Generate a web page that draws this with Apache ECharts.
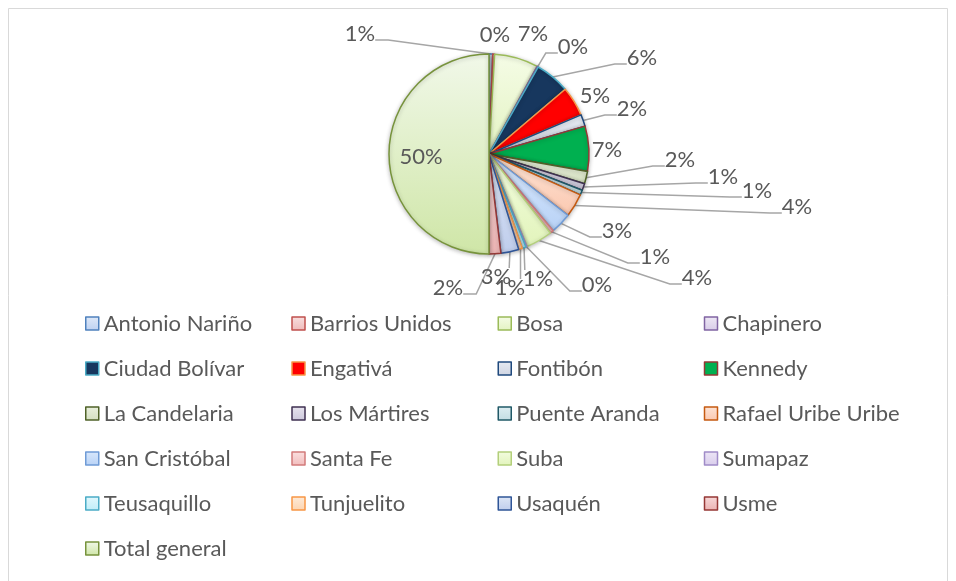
<!DOCTYPE html>
<html>
<head>
<meta charset="utf-8">
<script src="https://cdn.jsdelivr.net/npm/echarts@6/dist/echarts.min.js"></script>
<style>
  html, body { margin: 0; padding: 0; background: #ffffff; }
  #chart { width: 956px; height: 581px; }
</style>
</head>
<body>
<div id="chart"></div>
<script>
// Registros por localidad (Bogotá) con la fila "Total general" incluida
const localidades = [
  'Antonio Nariño', 'Barrios Unidos', 'Bosa', 'Chapinero',
  'Ciudad Bolívar', 'Engativá', 'Fontibón', 'Kennedy',
  'La Candelaria', 'Los Mártires', 'Puente Aranda', 'Rafael Uribe Uribe',
  'San Cristóbal', 'Santa Fe', 'Suba', 'Sumapaz',
  'Teusaquillo', 'Tunjuelito', 'Usaquén', 'Usme',
  'Total general'
];
const registros = [
  12, 6, 142, 4,
  112, 96, 38, 146,
  40, 22, 16, 76,
  68, 12, 86, 4,
  12, 12, 58, 38,
  1000
];

// Relleno degradado (arriba / abajo) y borde de cada porción
const rellenoClaro = [
  '#dfe9f8', '#f8e0e0', '#f5fce6', '#eee8f5',
  '#17375e', '#ff0000', '#e6eaf2', '#00b050',
  '#eaf0de', '#e7e4ee', '#deeef2', '#fde4d6',
  '#d9e8fc', '#fbe0e0', '#f3fce0', '#ede6f6',
  '#e2f8fd', '#feebd9', '#dee7f6', '#f7d8d8',
  '#f1f8e9'
];
const rellenoOscuro = [
  '#bdd1f2', '#efbaba', '#e3f3c2', '#d8cce8',
  '#17375e', '#ff0000', '#cfd5e2', '#00b050',
  '#d4dfc0', '#cdc8dc', '#c2dce2', '#fbc8b0',
  '#b8d2f6', '#f1bcbc', '#e2f4bb', '#d9cdec',
  '#bfedf8', '#fcd4b0', '#bfcdec', '#ebb3b3',
  '#cfe6a7'
];
const bordes = [
  '#4f81bd', '#c0504d', '#9bbb59', '#8064a2',
  '#4bacc6', '#f79646', '#1f497d', '#953735',
  '#4f6228', '#3f3151', '#215967', '#c55a11',
  '#6f9bd6', '#d27b7b', '#b3cf7b', '#a08cc8',
  '#4bacc6', '#f79646', '#2f5597', '#953735',
  '#77933c'
];

// Ubicación (centro) de cada etiqueta de porcentaje, al estilo de una hoja de cálculo
const posEtiquetas = [
  [360, 34], [495, 35], [533, 34], [573, 47],
  [642, 58], [595, 96], [632, 109], [607, 150],
  [680, 160], [723, 177], [757, 191], [797, 207],
  [617, 231], [655, 257], [697, 278], [597, 285],
  [538, 279], [510, 288], [496, 277], [448, 288],
  [421, 157]
];

const TEXTO = '#595959';
const FUENTE = 'Lato, "Liberation Sans", sans-serif';

const total = registros.reduce((a, b) => a + b, 0);

const datos = localidades.map((nombre, i) => {
  const item = {
    name: nombre,
    value: registros[i],
    itemStyle: {
      color: new echarts.graphic.LinearGradient(0, 0, 0, 1, [
        { offset: 0, color: rellenoClaro[i] },
        { offset: 1, color: rellenoOscuro[i] }
      ]),
      borderColor: bordes[i],
      borderWidth: 1.5
    }
  };
  if (nombre === 'Total general') {
    item.label = { position: 'inside' };
    item.labelLine = { show: false };
  }
  return item;
});

// Distancia de un punto a un rectángulo
function distanciaRect(p, r) {
  const dx = Math.max(r.x - p[0], 0, p[0] - (r.x + r.width));
  const dy = Math.max(r.y - p[1], 0, p[1] - (r.y + r.height));
  return Math.hypot(dx, dy);
}

// Coloca cada etiqueta y traza su línea guía desde el borde de la porción
function ubicarEtiqueta(params) {
  const i = params.dataIndex;
  const [cx, cy] = posEtiquetas[i];
  const w = params.labelRect.width;
  const h = params.labelRect.height;
  const out = { x: cx, y: cy, align: 'center', verticalAlign: 'middle' };
  const pts = params.labelLinePoints;
  if (!pts) return out;
  const borde = pts[0];
  const rect = { x: cx - w / 2, y: cy - h / 2, width: w, height: h };
  const dist = distanciaRect(borde, rect);
  const debajo = borde[1] < rect.y && borde[0] > rect.x - 14 && borde[0] < rect.x + w + 14;
  if (debajo && dist > 8) {
    // Etiqueta justo debajo: línea vertical hasta su borde superior
    const xFin = Math.min(Math.max(borde[0], rect.x + 2), rect.x + w - 2);
    const fin = [xFin, rect.y + 2];
    out.labelLinePoints = [borde, fin, fin];
    return out;
  }
  if (dist < 14) {
    out.labelLinePoints = [borde, borde, borde];
    return out;
  }
  const yUnion = cy + 6;
  if (borde[0] > cx) {
    const fin = [rect.x + w, yUnion];
    out.labelLinePoints = [borde, [fin[0] + 13, yUnion], fin];
  } else {
    const fin = [rect.x, yUnion];
    out.labelLinePoints = [borde, [fin[0] - 12, yUnion], fin];
  }
  return out;
}

const chart = echarts.init(document.getElementById('chart'), null, { renderer: 'canvas' });

chart.setOption({
  animation: false,
  backgroundColor: '#ffffff',
  graphic: [{
    type: 'rect',
    silent: true,
    shape: { x: 8.5, y: 8.5, width: 939, height: 600 },
    style: { fill: 'none', stroke: '#d9d9d9', lineWidth: 1 }
  }],
  legend: {
    left: 80,
    top: 300,
    width: 840,
    orient: 'horizontal',
    itemWidth: 13,
    itemHeight: 13,
    itemGap: 8,
    icon: 'rect',
    selectedMode: false,
    itemStyle: { borderWidth: 1.5 },
    textStyle: {
      color: TEXTO,
      fontSize: 22,
      fontFamily: FUENTE,
      width: 179.5,
      lineHeight: 37
    },
    data: localidades
  },
  series: [{
    type: 'pie',
    center: [489, 154],
    radius: 100,
    startAngle: 90,
    clockwise: true,
    avoidLabelOverlap: false,
    data: datos,
    itemStyle: {
      shadowBlur: 4,
      shadowColor: 'rgba(0,0,0,0.25)',
      shadowOffsetY: 1
    },
    label: {
      show: true,
      position: 'outside',
      color: TEXTO,
      fontSize: 22,
      fontFamily: FUENTE,
      formatter: (p) => Math.round(p.value / total * 100) + '%'
    },
    labelLine: {
      show: true,
      length: 12,
      length2: 20,
      lineStyle: { color: '#a6a6a6', width: 1.5 }
    },
    labelLayout: ubicarEtiqueta,
    emphasis: { disabled: true }
  }]
});
</script>
</body>
</html>
